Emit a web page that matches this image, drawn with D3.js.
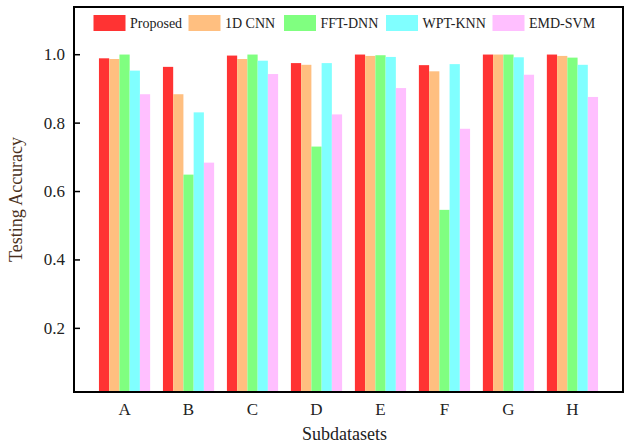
<!DOCTYPE html>
<html>
<head>
<meta charset="utf-8">
<script src="https://cdn.jsdelivr.net/npm/d3@7"></script>
<style>
  body { margin: 0; background: #fff; }
  text { font-family: "Liberation Serif", "Times New Roman", serif; }
</style>
</head>
<body>
<div id="chart"></div>
<script>
// data
var subsets = ["A", "B", "C", "D", "E", "F", "G", "H"];
var methods = ["Proposed", "1D CNN", "FFT-DNN", "WPT-KNN", "EMD-SVM"];
var proposed = [0.988, 0.963, 0.996, 0.974, 0.999, 0.968, 0.999, 0.999];
var cnn1d    = [0.986, 0.883, 0.986, 0.969, 0.995, 0.950, 0.999, 0.995];
var fftDnn   = [0.999, 0.648, 0.999, 0.730, 0.997, 0.545, 0.999, 0.990];
var wptKnn   = [0.952, 0.830, 0.981, 0.974, 0.992, 0.971, 0.991, 0.969];
var emdSvm   = [0.883, 0.683, 0.942, 0.824, 0.901, 0.782, 0.940, 0.875];
var yTicks = [0.2, 0.4, 0.6, 0.8, 1.0];
var colors = ["#ff3333", "#ffbf80", "#80ff80", "#80ffff", "#ffbfff"];

var series = [proposed, cnn1d, fftDnn, wptKnn, emdSvm];

var margin = {top: 7, right: 5, bottom: 52, left: 74},
    width = 628 - margin.left - margin.right,
    height = 444 - margin.top - margin.bottom;

var svg = d3.select("#chart")
    .append("svg")
    .attr("width", 628)
    .attr("height", 444)
  .append("g")
    .attr("transform", "translate(" + margin.left + "," + margin.top + ")");

var x0 = d3.scaleBand()
    .domain(subsets)
    .range([0, width])
    .paddingInner(0.2)
    .paddingOuter(0.39);

var x1 = d3.scaleBand()
    .domain(methods)
    .range([0, x0.bandwidth()]);

var y = d3.scaleLinear()
    .domain([0.0125, 1.138])
    .range([height, 0]);

var data = subsets.map(function(s, i) {
  return {name: s, values: methods.map(function(m, j) {
    return {name: m, value: series[j][i], color: colors[j]};
  })};
});

// bars
var group = svg.selectAll(".group")
    .data(data)
  .enter().append("g")
    .attr("class", "group")
    .attr("transform", function(d) { return "translate(" + x0(d.name) + ",0)"; });

group.selectAll("rect")
    .data(function(d) { return d.values; })
  .enter().append("rect")
    .attr("x", function(d) { return x1(d.name); })
    .attr("y", function(d) { return y(d.value); })
    .attr("width", x1.bandwidth())
    .attr("height", function(d) { return height - y(d.value); })
    .attr("fill", function(d) { return d.color; });

// y axis, ticks pointing inward
var yAxis = svg.append("g")
    .call(d3.axisLeft(y).tickValues(yTicks).tickFormat(d3.format(".1f")).tickSize(-6).tickPadding(9));
yAxis.select(".domain").remove();
yAxis.selectAll("line").attr("stroke", "#000").attr("stroke-width", 1.5);
yAxis.selectAll("text").attr("font-size", 17).attr("fill", "#222").attr("font-family", "Liberation Serif");

// x axis labels
var xAxis = svg.append("g")
    .attr("transform", "translate(0," + height + ")")
    .call(d3.axisBottom(x0).tickSize(0).tickPadding(11));
xAxis.select(".domain").remove();
xAxis.selectAll("text").attr("font-size", 17).attr("fill", "#222").attr("font-family", "Liberation Serif");

// frame
svg.append("rect")
    .attr("width", width)
    .attr("height", height)
    .attr("fill", "none")
    .attr("stroke", "#000")
    .attr("stroke-width", 2);

// axis titles
svg.append("text")
    .attr("transform", "rotate(-90)")
    .attr("x", -height / 2)
    .attr("y", -52)
    .attr("text-anchor", "middle")
    .attr("font-size", 18)
    .attr("fill", "#4a3020")
    .text("Testing Accuracy");

svg.append("text")
    .attr("x", width / 2 - 4)
    .attr("y", height + 48)
    .attr("text-anchor", "middle")
    .attr("font-size", 18)
    .attr("fill", "#222")
    .text("Subdatasets");

// legend
var legendX = [93.5, 188.5, 284, 386, 492.5];
var legend = svg.selectAll(".legend")
    .data(methods)
  .enter().append("g")
    .attr("class", "legend")
    .attr("transform", function(d, i) { return "translate(" + (legendX[i] - margin.left) + "," + (15 - margin.top) + ")"; });

legend.append("rect")
    .attr("width", 32)
    .attr("height", 16)
    .attr("fill", function(d, i) { return colors[i]; });

legend.append("text")
    .attr("x", 36.5)
    .attr("y", 13)
    .attr("font-size", 14)
    .attr("fill", "#222")
    .text(function(d) { return d; });
</script>
</body>
</html>
